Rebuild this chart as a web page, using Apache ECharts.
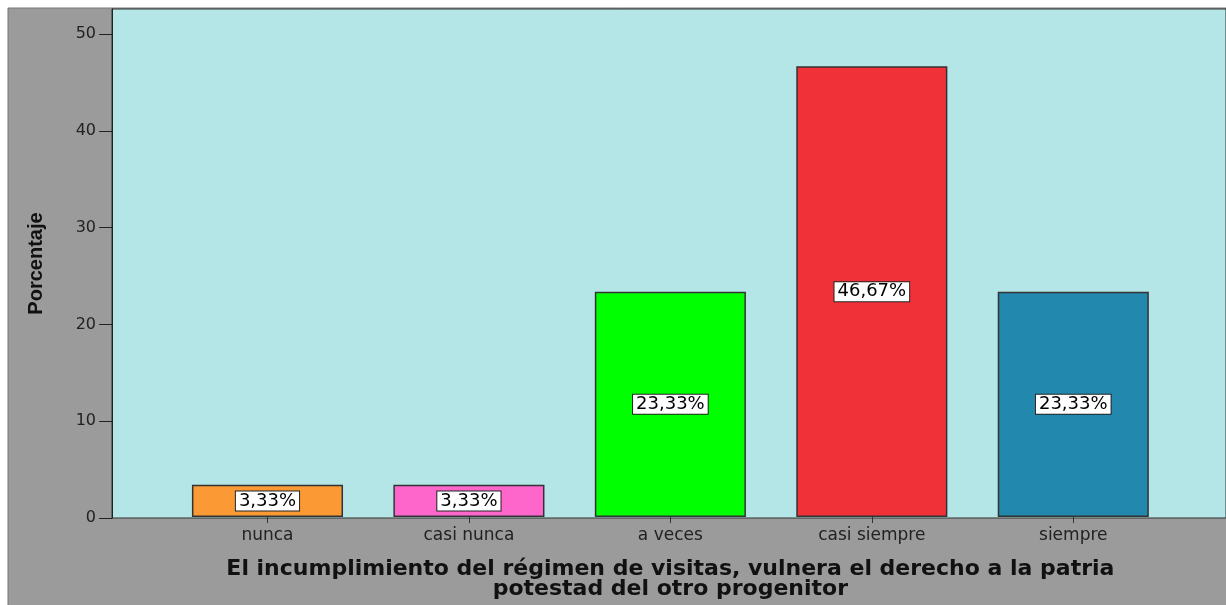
<!DOCTYPE html>
<html>
<head>
<meta charset="utf-8">
<script src="https://cdn.jsdelivr.net/npm/echarts@6/dist/echarts.min.js"></script>
<style>
  html, body { margin: 0; padding: 0; background: #fff; }
  #main { width: 1226px; height: 605px; }
</style>
</head>
<body>
<div id="main"></div>
<script>
// datos del gráfico
var categorias = ['nunca', 'casi nunca', 'a veces', 'casi siempre', 'siempre'];
var porcentajes = [3.33, 3.33, 23.33, 46.67, 23.33];
var etiquetas = ['3,33%', '3,33%', '23,33%', '46,67%', '23,33%'];
var colores = ['#fb9a35', '#ff66cc', '#00ff00', '#f03238', '#2388ad'];
var marcasY = [0, 10, 20, 30, 40, 50];

var chart = echarts.init(document.getElementById('main'));

var yMax = 52.6;

var option = {
  backgroundColor: '#ffffff',
  animation: false,
  graphic: [{
    type: 'rect',
    z: -10,
    shape: { x: 8, y: 8, width: 1230, height: 610 },
    style: { fill: '#9b9b9b', stroke: '#777', lineWidth: 1 }
  }],
  grid: [
    { // fondo del área de trazado
      left: 112, right: -3, top: 9, bottom: 87,
      show: true, backgroundColor: '#b4e6e7', borderColor: '#333', borderWidth: 1
    },
    { // barras
      left: 166.75, right: 52, top: 9, bottom: 87
    }
  ],
  xAxis: [
    { gridIndex: 0, type: 'value', min: 0, max: 1, show: false },
    {
      gridIndex: 1, type: 'category', data: categorias,
      axisLine: { show: false },
      axisTick: { show: true, alignWithLabel: true, length: 6, lineStyle: { color: '#333' } },
      axisLabel: { fontFamily: 'DejaVu Sans', fontSize: 17, color: '#222', margin: 10 },
      name: 'El incumplimiento del régimen de visitas, vulnera el derecho a la patria\npotestad del otro progenitor',
      nameLocation: 'middle',
      nameGap: 42,
      nameTextStyle: { fontFamily: 'DejaVu Sans', fontWeight: 'bold', fontSize: 22, color: '#111', lineHeight: 20 }
    }
  ],
  yAxis: [
    {
      gridIndex: 0, type: 'value', min: 0, max: yMax,
      axisLine: { show: true, lineStyle: { color: '#222' } },
      axisTick: { show: true, length: 13, lineStyle: { color: '#222' }, customValues: marcasY },
      axisLabel: { fontFamily: 'DejaVu Sans', fontSize: 16, color: '#222', margin: 16, customValues: marcasY },
      splitLine: { show: false },
      name: 'Porcentaje',
      nameLocation: 'middle',
      nameGap: 66,
      nameTextStyle: { fontFamily: 'Liberation Sans', fontWeight: 'bold', fontSize: 20, color: '#111' }
    },
    { gridIndex: 1, type: 'value', min: 0, max: yMax, show: false }
  ],
  series: [{
    type: 'bar',
    xAxisIndex: 1,
    yAxisIndex: 1,
    barWidth: '75%',
    data: porcentajes.map(function (v, i) {
      return { value: v, itemStyle: { color: colores[i] } };
    }),
    itemStyle: { borderColor: '#333', borderWidth: 1.5 },
    label: {
      show: true,
      position: 'inside',
      formatter: function (p) { return etiquetas[p.dataIndex]; },
      fontFamily: 'DejaVu Sans',
      fontSize: 18,
      color: '#000',
      backgroundColor: '#fff',
      borderColor: '#222',
      borderWidth: 1,
      padding: [1, 3, 0, 3]
    }
  }]
};

chart.setOption(option);
</script>
</body>
</html>
